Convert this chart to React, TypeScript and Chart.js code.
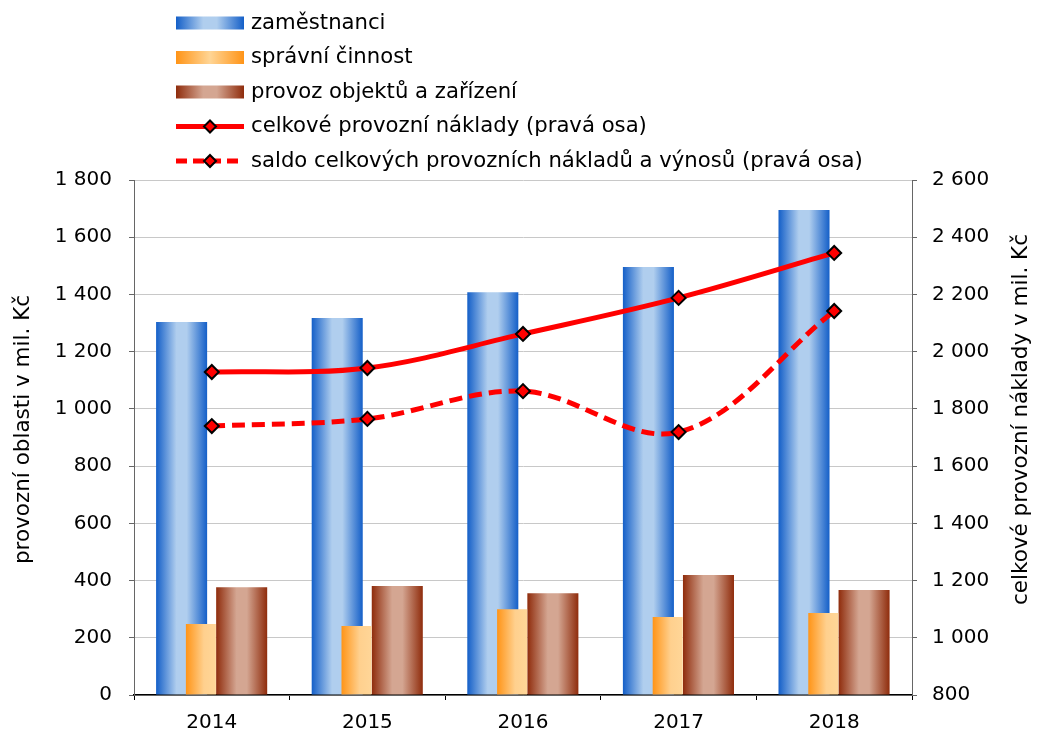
import React, { useEffect, useRef } from 'react';
import { Chart, registerables } from 'chart.js';

Chart.register(...registerables);

const years = ['2014', '2015', '2016', '2017', '2018'];
const zamestnanci = [1304, 1318, 1408, 1496, 1695];
const spravniCinnost = [248, 241, 300, 273, 287];
const provozObjektu = [377, 381, 356, 419, 367];
const celkoveNaklady = [1929, 1943, 2062, 2188, 2345];
const saldoNakladuVynosu = [1740, 1765, 1862, 1719, 2142];

const leftRange = [0, 1800];
const rightRange = [800, 2600];
const tickStep = 200;

const legendLabels = [
  'zaměstnanci',
  'správní činnost',
  'provoz objektů a zařízení',
  'celkové provozní náklady (pravá osa)',
  'saldo celkových provozních nákladů a výnosů (pravá osa)',
];
const leftTitle = 'provozní oblasti v mil. Kč';
const rightTitle = 'celkové provozní náklady v mil. Kč';

const FONT = '"DejaVu Sans", Verdana, sans-serif';

const BLUE_STOPS: [number, string][] = [
  [0, '#145fc8'], [0.4, '#b0ceee'], [0.6, '#b0ceee'], [1, '#145fc8'],
];
const ORANGE_STOPS: [number, string][] = [
  [0, '#ff9417'], [0.6, '#ffd08e'], [1, '#ffd698'],
];
const ORANGE_LEGEND_STOPS: [number, string][] = [
  [0, '#ff9417'], [0.5, '#ffd595'], [1, '#ff9417'],
];
const BROWN_STOPS: [number, string][] = [
  [0, '#8f2c0c'], [0.4, '#d4a692'], [0.6, '#d4a692'], [1, '#8f2c0c'],
];

// bar layout as fractions of a category width
const BLUE_SHIFT = -0.194;
const ORANGE_SHIFT = -0.07;
const BROWN_SHIFT = 0.192;
const WIDE_BAR = 0.328;
const NARROW_BAR = 0.193;

const firstYear = Number(years[0]);
const lastYear = Number(years[years.length - 1]);

function barAxis(shift: number) {
  return {
    type: 'linear',
    display: false,
    offset: false,
    grid: { offset: false },
    min: firstYear - 0.5 - shift,
    max: lastYear + 0.5 - shift,
    afterBuildTicks: (s: any) => {
      s.ticks = [{ value: firstYear }];
    },
  };
}

function gradFill(stops: [number, string][], axisId: string, frac: number) {
  return (c: any) => {
    const chart = c.chart;
    const s = chart.scales && chart.scales[axisId];
    if (!s || c.type !== 'data' || !chart.chartArea || !c.parsed) return stops[0][1];
    const px = s.getPixelForValue(c.parsed.x);
    const W = s.getPixelForValue(c.parsed.x + 1) - px;
    const w = W * frac;
    const g = chart.ctx.createLinearGradient(px - w / 2, 0, px + w / 2, 0);
    stops.forEach(([o, col]) => g.addColorStop(o, col));
    return g;
  };
}

function fmt(v: number | string) {
  return String(v).replace(/\B(?=(\d{3})+(?!\d))/g, '\u00a0');
}

function drawDiamond(ctx: CanvasRenderingContext2D, x: number, y: number, r: number) {
  ctx.beginPath();
  ctx.moveTo(x, y - r);
  ctx.lineTo(x + r, y);
  ctx.lineTo(x, y + r);
  ctx.lineTo(x - r, y);
  ctx.closePath();
  ctx.fillStyle = '#ff0000';
  ctx.fill();
  ctx.lineWidth = 2;
  ctx.strokeStyle = '#000';
  ctx.setLineDash([]);
  ctx.stroke();
}

const customPlugin = {
  id: 'customLegendTitles',
  afterDraw(chart: any) {
    const ctx: CanvasRenderingContext2D = chart.ctx;
    ctx.save();
    const x0 = 176;
    const x1 = 244;
    const tx = 251;
    const rows = [23, 57.5, 92, 126.5, 161];
    const stopsList = [BLUE_STOPS, ORANGE_LEGEND_STOPS, BROWN_STOPS];
    for (let i = 0; i < 3; i++) {
      const g = ctx.createLinearGradient(x0, 0, x1, 0);
      stopsList[i].forEach(([o, col]) => g.addColorStop(o, col));
      ctx.fillStyle = g;
      ctx.fillRect(x0, rows[i] - 6.5, x1 - x0, 13);
    }
    ctx.strokeStyle = '#ff0000';
    ctx.lineWidth = 5;
    ctx.lineCap = 'butt';
    ctx.setLineDash([]);
    ctx.beginPath();
    ctx.moveTo(x0, rows[3]);
    ctx.lineTo(x1, rows[3]);
    ctx.stroke();
    drawDiamond(ctx, (x0 + x1) / 2, rows[3], 6);
    ctx.strokeStyle = '#ff0000';
    ctx.lineWidth = 5;
    ctx.setLineDash([11, 6]);
    ctx.beginPath();
    ctx.moveTo(x0, rows[4]);
    ctx.lineTo(x1, rows[4]);
    ctx.stroke();
    ctx.setLineDash([]);
    drawDiamond(ctx, (x0 + x1) / 2, rows[4], 6);

    ctx.fillStyle = '#000';
    ctx.font = `21.2px ${FONT}`;
    ctx.textAlign = 'left';
    ctx.textBaseline = 'middle';
    legendLabels.forEach((t, i) => ctx.fillText(t, tx, rows[i]));

    const area = chart.chartArea;
    ctx.font = `21.5px ${FONT}`;
    ctx.textAlign = 'center';
    ctx.save();
    ctx.translate(23, (area.top + area.bottom) / 2 - 8);
    ctx.rotate(-Math.PI / 2);
    ctx.fillText(leftTitle, 0, 0);
    ctx.restore();
    ctx.save();
    ctx.translate(1021, (area.top + area.bottom) / 2 - 18);
    ctx.rotate(-Math.PI / 2);
    ctx.fillText(rightTitle, 0, 0);
    ctx.restore();
    ctx.restore();
  },
};

export default function App() {
  const ref = useRef<HTMLCanvasElement | null>(null);
  useEffect(() => {
    if (!ref.current) return;
    const tickFont = { family: FONT, size: 20 };
    const barCommon = {
      type: 'bar',
      yAxisID: 'y',
      grouped: false,
      categoryPercentage: 1,
      borderWidth: 0,
    };
    const lineCommon = {
      type: 'line',
      xAxisID: 'x',
      yAxisID: 'yR',
      borderColor: '#ff0000',
      borderWidth: 5,
      tension: 0.35,
      pointStyle: 'rectRot',
      pointRadius: 7,
      pointHoverRadius: 7,
      pointBackgroundColor: '#ff0000',
      pointBorderColor: '#000',
      pointBorderWidth: 2,
      fill: false,
    };
    const chart = new Chart(ref.current, {
      type: 'bar',
      data: {
        labels: years,
        datasets: [
          {
            ...barCommon,
            label: legendLabels[0],
            data: zamestnanci,
            xAxisID: 'xBlue',
            order: 3,
            barPercentage: WIDE_BAR,
            backgroundColor: gradFill(BLUE_STOPS, 'xBlue', WIDE_BAR),
          },
          {
            ...barCommon,
            label: legendLabels[1],
            data: spravniCinnost,
            xAxisID: 'xOrange',
            order: 2,
            barPercentage: NARROW_BAR,
            backgroundColor: gradFill(ORANGE_STOPS, 'xOrange', NARROW_BAR),
          },
          {
            ...barCommon,
            label: legendLabels[2],
            data: provozObjektu,
            xAxisID: 'xBrown',
            order: 3,
            barPercentage: WIDE_BAR,
            backgroundColor: gradFill(BROWN_STOPS, 'xBrown', WIDE_BAR),
          },
          {
            ...lineCommon,
            label: legendLabels[3],
            data: celkoveNaklady,
            order: 0,
          },
          {
            ...lineCommon,
            label: legendLabels[4],
            data: saldoNakladuVynosu,
            order: 1,
            borderDash: [13, 7],
          },
        ],
      } as any,
      options: {
        responsive: false,
        animation: false,
        layout: { padding: { top: 180, left: 0, right: 0, bottom: 0 } },
        plugins: {
          legend: { display: false },
          tooltip: { enabled: false },
        },
        scales: {
          x: {
            type: 'category',
            offset: true,
            grid: {
              offset: true,
              drawOnChartArea: false,
              drawTicks: true,
              tickLength: 5,
              tickColor: '#000',
            },
            border: { color: '#000', width: 1.5 },
            ticks: { font: tickFont, color: '#000', padding: 11 },
            afterFit: (s: any) => {
              s.height = 39;
            },
          },
          xBlue: barAxis(BLUE_SHIFT),
          xOrange: barAxis(ORANGE_SHIFT),
          xBrown: barAxis(BROWN_SHIFT),
          y: {
            position: 'left',
            min: leftRange[0],
            max: leftRange[1],
            ticks: {
              stepSize: tickStep,
              font: tickFont,
              color: '#000',
              padding: 17,
              callback: (v: any) => fmt(v),
            },
            grid: { color: '#c8c8c8', tickColor: '#666', tickLength: 5 },
            border: { color: '#666', width: 1 },
            afterFit: (s: any) => {
              s.width = 134;
            },
          },
          yR: {
            position: 'right',
            min: rightRange[0],
            max: rightRange[1],
            ticks: {
              stepSize: tickStep,
              font: tickFont,
              color: '#000',
              padding: 15,
              callback: (v: any) => fmt(v),
            },
            grid: { drawOnChartArea: false, tickColor: '#666', tickLength: 5 },
            border: { color: '#666', width: 1 },
            afterFit: (s: any) => {
              s.width = 128;
            },
          },
        },
      } as any,
      plugins: [customPlugin],
    });
    return () => chart.destroy();
  }, []);
  return (
    <div style={{ position: 'absolute', left: 0, top: 0, width: 1040, height: 734, background: '#fff' }}>
      <canvas ref={ref} width={1040} height={734} style={{ display: 'block' }} />
    </div>
  );
}
